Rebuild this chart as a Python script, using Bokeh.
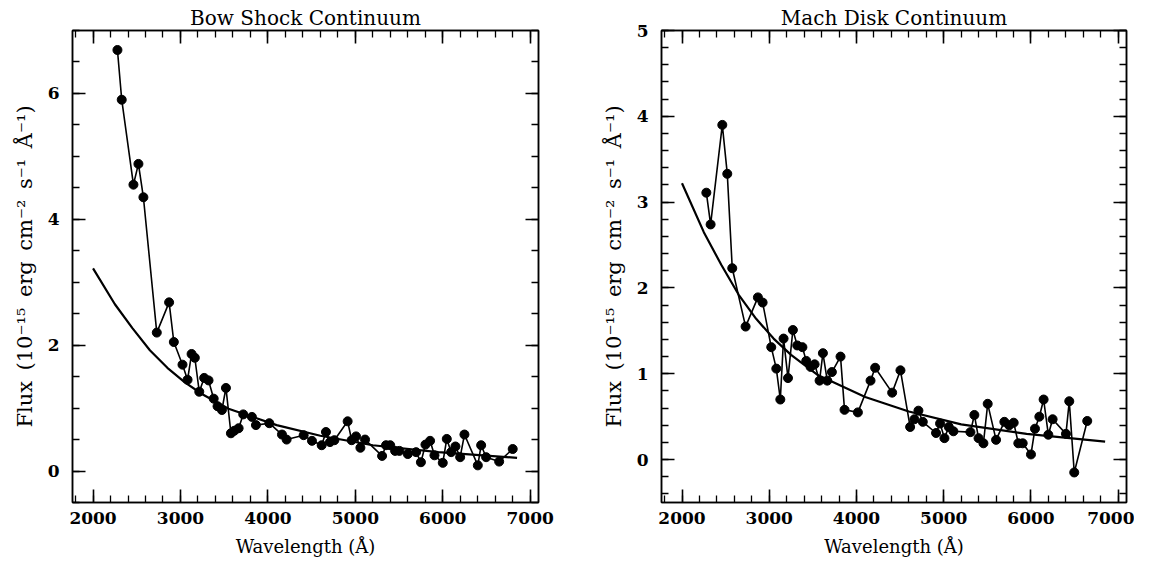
from bokeh.plotting import figure
from bokeh.models import LinearAxis, Range1d, SingleIntervalTicker, CustomJSTickFormatter
from bokeh.layouts import row
from bokeh.embed import file_html
from bokeh.resources import INLINE

# ---- data ----
wl_bow = [2279, 2328, 2462, 2519, 2576, 2729, 2870, 2924, 3023, 3081, 3127, 3164, 3215, 3271,
          3321, 3380, 3424, 3474, 3520, 3577, 3615, 3665, 3718, 3817, 3863, 4016, 4161, 4214,
          4409, 4504, 4615, 4664, 4710, 4760, 4912, 4958, 5008, 5058, 5111, 5306, 5351, 5399,
          5455, 5504, 5600, 5695, 5750, 5802, 5855, 5905, 6000, 6046, 6096, 6145, 6199, 6248,
          6401, 6439, 6496, 6645, 6800]
flux_bow = [6.69, 5.90, 4.55, 4.88, 4.35, 2.20, 2.68, 2.05, 1.69, 1.45, 1.86, 1.80, 1.26, 1.48,
            1.44, 1.15, 1.03, 0.97, 1.32, 0.60, 0.64, 0.68, 0.90, 0.86, 0.73, 0.76, 0.58, 0.50,
            0.57, 0.48, 0.41, 0.62, 0.46, 0.49, 0.79, 0.49, 0.55, 0.37, 0.50, 0.24, 0.41, 0.41,
            0.32, 0.32, 0.27, 0.30, 0.14, 0.42, 0.48, 0.25, 0.13, 0.51, 0.30, 0.39, 0.22, 0.58,
            0.09, 0.41, 0.22, 0.15, 0.35]

wl_mach = [2279, 2328, 2462, 2519, 2576, 2729, 2870, 2924, 3023, 3081, 3127, 3164, 3215, 3271,
           3321, 3380, 3424, 3474, 3520, 3577, 3615, 3665, 3718, 3817, 3863, 4016, 4161, 4214,
           4409, 4504, 4615, 4664, 4710, 4760, 4912, 4958, 5008, 5058, 5111, 5306, 5351, 5399,
           5455, 5504, 5600, 5695, 5750, 5802, 5855, 5905, 6000, 6046, 6096, 6145, 6199, 6248,
           6401, 6439, 6496, 6645]
flux_mach = [3.11, 2.74, 3.90, 3.33, 2.23, 1.55, 1.89, 1.83, 1.31, 1.06, 0.70, 1.41, 0.95, 1.51,
             1.33, 1.31, 1.15, 1.08, 1.11, 0.92, 1.24, 0.92, 1.02, 1.20, 0.58, 0.55, 0.92, 1.07,
             0.78, 1.04, 0.38, 0.47, 0.57, 0.44, 0.31, 0.42, 0.25, 0.38, 0.33, 0.32, 0.52, 0.25,
             0.19, 0.65, 0.23, 0.44, 0.40, 0.43, 0.19, 0.19, 0.06, 0.36, 0.50, 0.70, 0.29, 0.47,
             0.30, 0.68, -0.15, 0.45]

# model continuum curve (same in both panels)
wl_model = [2000, 2250, 2450, 2650, 2850, 3050, 3250, 3550, 4100, 4600, 5200, 5950, 6850]
flux_model = [3.22, 2.65, 2.27, 1.92, 1.64, 1.41, 1.22, 0.99, 0.73, 0.56, 0.41, 0.30, 0.21]

x_ticks_major = 1000
titles = ["Bow Shock Continuum", "Mach Disk Continuum"]
SP = "\u2002"
y_label = ("Flux" + SP + "(10\u207b\u00b9\u2075" + SP + "erg" + SP + "cm\u207b\u00b2" + SP
           + "s\u207b\u00b9" + SP + "\u00c5\u207b\u00b9)")
x_label = "Wavelength (\u00c5)"

FONT = "DejaVu Serif"


def style_axis(ax, ticker, show_labels):
    ax.ticker = ticker
    ax.axis_line_color = "black"
    ax.axis_line_width = 1.5
    ax.major_tick_line_color = "black"
    ax.minor_tick_line_color = "black"
    ax.major_tick_line_width = 1.6
    ax.minor_tick_line_width = 1.3
    ax.major_tick_in = 13
    ax.major_tick_out = 0
    ax.minor_tick_in = 7
    ax.minor_tick_out = 0
    if show_labels:
        ax.major_label_text_font = FONT
        ax.major_label_text_font_size = "17px"
        ax.major_label_text_font_style = "bold"
        ax.major_label_text_color = "black"
        ax.axis_label_text_font = FONT
        ax.axis_label_text_font_style = "normal"
        ax.axis_label_text_color = "black"
    else:
        ax.formatter = CustomJSTickFormatter(code="return ''")
        ax.major_label_text_font_size = "0px"
        ax.major_label_standoff = 0


def make_panel(title, wl, flux, ymin, ymax, ymajor, yminor_n, width, bl, br):
    p = figure(width=width, height=562, x_range=Range1d(1765, 7095), y_range=Range1d(ymin, ymax),
               output_backend="svg", toolbar_location=None,
               min_border_left=bl, min_border_right=br, min_border_top=30, min_border_bottom=60)
    p.title.text = title
    p.title.text_font = FONT
    p.title.text_font_size = "20px"
    p.title.text_font_style = "normal"
    p.title.text_color = "black"
    p.title.align = "center"
    p.title.standoff = 2
    p.grid.visible = False
    p.outline_line_color = "black"
    p.outline_line_width = 1.5

    xt = SingleIntervalTicker(interval=x_ticks_major, num_minor_ticks=5)
    yt = SingleIntervalTicker(interval=ymajor, num_minor_ticks=yminor_n)

    style_axis(p.xaxis[0], xt, True)
    style_axis(p.yaxis[0], yt, True)
    p.xaxis[0].axis_label = x_label
    p.xaxis[0].axis_label_text_font_size = "18px"
    p.xaxis[0].major_label_standoff = 9
    p.xaxis[0].axis_label_standoff = 9
    p.yaxis[0].axis_label = y_label
    p.yaxis[0].axis_label_text_font_size = "21px"
    p.yaxis[0].major_label_standoff = 13
    p.yaxis[0].axis_label_standoff = 8

    top = LinearAxis()
    style_axis(top, xt, False)
    p.add_layout(top, "above")
    right = LinearAxis()
    style_axis(right, yt, False)
    p.add_layout(right, "right")

    p.line(wl_model, flux_model, line_width=2.2, color="black")
    p.line(wl, flux, line_width=1.6, color="black")
    p.scatter(wl, flux, size=9, color="black")
    return p


p1 = make_panel(titles[0], wl_bow, flux_bow, -0.5, 7.0, 2, 4, 597, 72, 59)
p2 = make_panel(titles[1], wl_mach, flux_mach, -0.5, 5.0, 1, 5, 537, 64, 8)

layout = row(p1, p2)
open("out.html", "w").write(file_html(layout, INLINE))
